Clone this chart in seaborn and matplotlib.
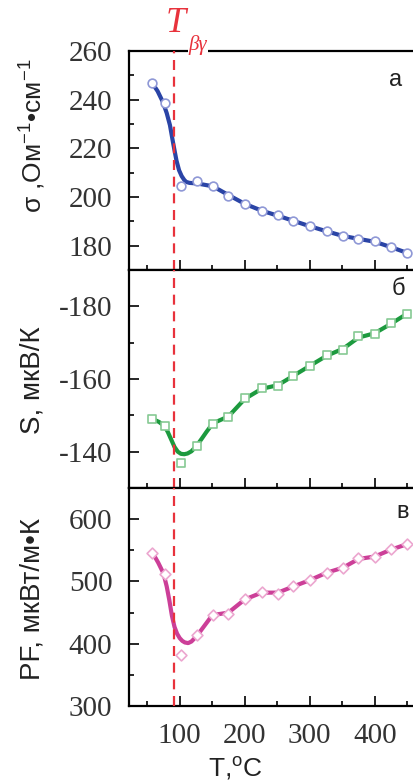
import numpy as np
import pandas as pd
import matplotlib
matplotlib.use("Agg")
import matplotlib.pyplot as plt
from matplotlib.ticker import MultipleLocator
import seaborn as sns

# ---------------- data ----------------
T_pts = [58, 77, 102, 126, 151, 175, 200, 226, 251, 275, 300, 326, 351, 375, 400, 425, 450]
sigma_pts = [246.8, 238.8, 204.5, 206.7, 204.6, 200.6, 197.0, 194.4, 192.4, 190.3, 188.0,
             185.9, 184.0, 182.8, 181.8, 179.3, 177.0]
S_pts = [-148.9, -147.1, -137.0, -141.6, -147.7, -149.5, -154.7, -157.6, -158.1, -160.9,
         -163.6, -166.5, -168.1, -171.7, -172.4, -175.4, -178.0]
PF_pts = [546.4, 511.7, 381.7, 413.2, 445.9, 448.5, 471.6, 483.3, 480.6, 492.5, 502.1,
          514.3, 521.3, 537.4, 539.5, 551.8, 559.9]

# fitted (smooth) curves
T_fit_sigma = [58, 66, 74, 80, 85, 90, 95, 99, 103, 107, 110, 115, 120, 126, 151, 175, 200,
               226, 251, 275, 300, 326, 351, 375, 400, 425, 450]
sigma_fit = [246.7, 243.5, 239.1, 234.5, 229.5, 222.0, 215.0, 211.0, 208.6, 207.0, 206.2,
             205.8, 205.7, 205.6, 204.4, 200.8, 197.2, 194.4, 192.3, 190.2, 188.0, 185.9,
             184.0, 182.8, 181.6, 179.4, 177.0]

T_fit_S = [58, 68, 77, 82, 87, 92, 97, 102, 107, 112, 118, 126, 134, 141, 151, 175, 200,
           226, 251, 275, 300, 326, 351, 375, 400, 425, 450]
S_fit = [-149.0, -148.2, -147.0, -145.3, -143.3, -141.3, -140.0, -139.4, -139.3, -139.5,
         -140.1, -141.6, -143.6, -145.4, -147.8, -149.7, -154.5, -157.3, -158.3, -160.9,
         -163.6, -166.4, -168.3, -171.4, -172.6, -175.2, -178.0]

T_fit_PF = [58, 67, 75, 80, 84, 88, 92, 96, 100, 104, 108, 113, 118, 126, 136, 146, 151,
            175, 200, 226, 251, 275, 300, 326, 351, 375, 400, 425, 450]
PF_fit = [546.4, 530.0, 513.0, 492.0, 470.0, 445.0, 427.0, 416.0, 409.0, 404.5, 402.0,
          401.0, 403.5, 412.0, 426.0, 440.0, 446.0, 450.0, 471.0, 482.0, 482.0, 492.0, 502.0,
          514.0, 522.0, 536.0, 540.0, 551.0, 560.0]

T_transition = 91

x_major = [100, 200, 300, 400]
x_labels = ["100", "200", "300", "400"]

# ---------------- style ----------------
sns.set_style("ticks")
plt.rcParams["font.family"] = ["Liberation Sans", "DejaVu Sans"]
plt.rcParams["mathtext.fontset"] = "custom"
plt.rcParams["mathtext.rm"] = "Liberation Sans"
plt.rcParams["mathtext.it"] = "Liberation Sans:italic"
plt.rcParams["axes.unicode_minus"] = False

fig = plt.figure(figsize=(4.14, 7.83), dpi=100)
W, H = 414.0, 783.0
left = 129 / W
right = 417 / W
bounds = [(51, 270), (270, 488), (488, 706)]
axes = []
for top_px, bot_px in bounds:
    ax = fig.add_axes([left, 1 - bot_px / H, right - left, (bot_px - top_px) / H])
    axes.append(ax)

panels = [
    dict(pts=sigma_pts, fitT=T_fit_sigma, fit=sigma_fit, line="#2a44a6", edge="#8f98d6",
         marker="o", ms=6.3, ylim=(170, 260), major=20, minor=10, letter="а",
         lpos=(0.924, 0.868)),
    dict(pts=S_pts, fitT=T_fit_S, fit=S_fit, line="#1c9a3e", edge="#86c993",
         marker="s", ms=5.5, ylim=(-130, -190), major=20, minor=10, letter="б",
         lpos=(0.934, 0.913)),
    dict(pts=PF_pts, fitT=T_fit_PF, fit=PF_fit, line="#cc3f98", edge="#eca6cf",
         marker="D", ms=5.5, ylim=(300, 650), major=100, minor=50, letter="в",
         lpos=(0.951, 0.89)),
]

for ax, p in zip(axes, panels):
    dfit = pd.DataFrame({"T": p["fitT"], "y": p["fit"]})
    sns.lineplot(data=dfit, x="T", y="y", ax=ax, color=p["line"], lw=3.0,
                 sort=False, estimator=None, zorder=2)
    dpts = pd.DataFrame({"T": T_pts, "y": p["pts"]})
    sns.scatterplot(data=dpts, x="T", y="y", ax=ax, marker=p["marker"], s=p["ms"] ** 2,
                    facecolor="white", edgecolor=p["edge"], linewidth=1.2, zorder=3)
    ax.axvline(T_transition, color="#e8323c", lw=1.6, dashes=(4.5, 3.0), zorder=4)
    ax.set_xlim(22, 465)
    ax.set_ylim(*p["ylim"])
    ax.set_xlabel("")
    ax.set_ylabel("")
    ax.yaxis.set_major_locator(MultipleLocator(p["major"]))
    ax.yaxis.set_minor_locator(MultipleLocator(p["minor"]))
    ax.set_xticks(x_major)
    ax.xaxis.set_minor_locator(MultipleLocator(50))
    ax.tick_params(which="major", direction="in", length=7, width=1.4, labelsize=21, pad=12,
                   labelcolor="#333333")
    ax.tick_params(which="minor", direction="in", length=3.5, width=1.4)
    ax.tick_params(axis="x", which="both", top=False, bottom=True)
    ax.tick_params(axis="y", which="both", right=False, left=True)
    for lab in ax.get_yticklabels() + ax.get_xticklabels():
        lab.set_family("Liberation Serif")
    for sp in ax.spines.values():
        sp.set_linewidth(1.6)
        sp.set_color("black")
    ax.text(p["lpos"][0], p["lpos"][1], p["letter"], transform=ax.transAxes,
            ha="center", va="center", fontsize=17, color="#222222")

for ax in axes[:2]:
    ax.set_xticklabels([])
axes[2].set_xticklabels(x_labels)
for lab in axes[2].get_xticklabels():
    lab.set_family("Liberation Serif")

# y labels
fig.text(33 / W, 1 - 136 / H, "σ ,Ом$^{-1}$•см$^{-1}$", rotation=90, ha="center",
         va="center", fontsize=19, color="#222222")
fig.text(33 / W, 1 - 380 / H, "S, мкВ/К", rotation=90, ha="center", va="center",
         fontsize=20, color="#222222")
fig.text(33 / W, 1 - 599 / H, "PF, мкВт/м•К", rotation=90, ha="center", va="center",
         fontsize=20, color="#222222")
# x label
fig.text(235 / W, 1 - 768 / H, "T,$^{\\rm o}$C", ha="center", va="center", fontsize=19,
         color="#222222")

# transition label
fig.text(176 / W, 1 - 24 / H, "T", ha="center", va="center", fontsize=26, color="#e8323c",
         family="Liberation Serif", style="italic")
fig.text(198 / W, 1 - 45 / H, "βγ", ha="center", va="center", fontsize=15,
         color="#e8323c", family="Liberation Serif", style="italic",
         bbox=dict(facecolor="white", edgecolor="none", pad=0.5))

fig.savefig("out.png", dpi=100)
